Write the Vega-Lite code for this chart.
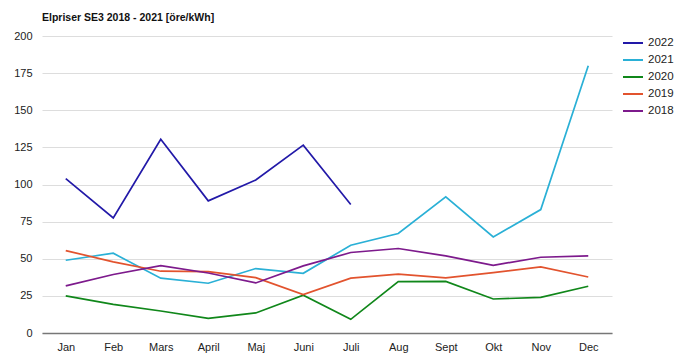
{
  "$schema": "https://vega.github.io/schema/vega-lite/v6.json",
  "width": 570,
  "height": 297,
  "autosize": {"type": "none"},
  "padding": {"left": 42, "top": 36, "right": 78, "bottom": 26},
  "background": "white",
  "title": {"text": "Elpriser SE3 2018 - 2021 [öre/kWh]", "anchor": "start", "font": "Liberation Sans", "fontSize": 10.5, "fontWeight": "bold", "color": "#111", "offset": 7, "frame": "group"},
  "config": {"view": {"stroke": null}, "font": "Liberation Sans"},
  "data": {"values": [
    {"month": "Jan", "year": "2022", "price": 104},
    {"month": "Feb", "year": "2022", "price": 77.5},
    {"month": "Mars", "year": "2022", "price": 130.5},
    {"month": "April", "year": "2022", "price": 89},
    {"month": "Maj", "year": "2022", "price": 103},
    {"month": "Juni", "year": "2022", "price": 126.5},
    {"month": "Juli", "year": "2022", "price": 86.5},
    {"month": "Jan", "year": "2021", "price": 49},
    {"month": "Feb", "year": "2021", "price": 53.7},
    {"month": "Mars", "year": "2021", "price": 36.9},
    {"month": "April", "year": "2021", "price": 33.5},
    {"month": "Maj", "year": "2021", "price": 43.4},
    {"month": "Juni", "year": "2021", "price": 40.2},
    {"month": "Juli", "year": "2021", "price": 59.1},
    {"month": "Aug", "year": "2021", "price": 67},
    {"month": "Sept", "year": "2021", "price": 91.7},
    {"month": "Okt", "year": "2021", "price": 64.7},
    {"month": "Nov", "year": "2021", "price": 83.1},
    {"month": "Dec", "year": "2021", "price": 180},
    {"month": "Jan", "year": "2020", "price": 25},
    {"month": "Feb", "year": "2020", "price": 19.3},
    {"month": "Mars", "year": "2020", "price": 14.8},
    {"month": "April", "year": "2020", "price": 9.9},
    {"month": "Maj", "year": "2020", "price": 13.5},
    {"month": "Juni", "year": "2020", "price": 25.4},
    {"month": "Juli", "year": "2020", "price": 9.2},
    {"month": "Aug", "year": "2020", "price": 34.6},
    {"month": "Sept", "year": "2020", "price": 34.7},
    {"month": "Okt", "year": "2020", "price": 22.9},
    {"month": "Nov", "year": "2020", "price": 24},
    {"month": "Dec", "year": "2020", "price": 31.5},
    {"month": "Jan", "year": "2019", "price": 55.5},
    {"month": "Feb", "year": "2019", "price": 47.9},
    {"month": "Mars", "year": "2019", "price": 41.6},
    {"month": "April", "year": "2019", "price": 41.3},
    {"month": "Maj", "year": "2019", "price": 37.3},
    {"month": "Juni", "year": "2019", "price": 25.9},
    {"month": "Juli", "year": "2019", "price": 36.9},
    {"month": "Aug", "year": "2019", "price": 39.6},
    {"month": "Sept", "year": "2019", "price": 37.1},
    {"month": "Okt", "year": "2019", "price": 40.7},
    {"month": "Nov", "year": "2019", "price": 44.5},
    {"month": "Dec", "year": "2019", "price": 37.7},
    {"month": "Jan", "year": "2018", "price": 31.7},
    {"month": "Feb", "year": "2018", "price": 39.4},
    {"month": "Mars", "year": "2018", "price": 45.4},
    {"month": "April", "year": "2018", "price": 40.4},
    {"month": "Maj", "year": "2018", "price": 33.7},
    {"month": "Juni", "year": "2018", "price": 45.2},
    {"month": "Juli", "year": "2018", "price": 54.2},
    {"month": "Aug", "year": "2018", "price": 56.9},
    {"month": "Sept", "year": "2018", "price": 51.9},
    {"month": "Okt", "year": "2018", "price": 45.6},
    {"month": "Nov", "year": "2018", "price": 51},
    {"month": "Dec", "year": "2018", "price": 51.9}
  ]},
  "mark": {"type": "line", "strokeWidth": 1.7},
  "encoding": {
    "x": {"field": "month", "type": "ordinal", "sort": ["Jan","Feb","Mars","April","Maj","Juni","Juli","Aug","Sept","Okt","Nov","Dec"],
      "scale": {"type": "point", "padding": 0.5},
      "axis": {"title": null, "labelAngle": 0, "ticks": false, "domainColor": "#777", "domainWidth": 1.5, "labelFontSize": 11, "labelColor": "#222", "labelPadding": 8, "grid": false}},
    "y": {"field": "price", "type": "quantitative", "scale": {"domain": [0, 200]},
      "axis": {"title": null, "values": [0,25,50,75,100,125,150,175,200], "domain": false, "ticks": false, "gridColor": "#ddd", "gridWidth": 1, "labelFontSize": 11, "labelColor": "#222", "labelPadding": 10}},
    "color": {"field": "year", "type": "nominal", "sort": ["2022","2021","2020","2019","2018"],
      "scale": {"domain": ["2022","2021","2020","2019","2018"], "range": ["#2219a8","#2ab0d6","#10871a","#e2532e","#7d1a8c"]},
      "legend": {"title": null, "orient": "none", "legendX": 580, "legendY": -4, "symbolType": "stroke", "symbolSize": 400, "symbolStrokeWidth": 2, "labelFontSize": 11.5, "labelColor": "#222", "rowPadding": 0, "labelOffset": 4}}
  }
}
